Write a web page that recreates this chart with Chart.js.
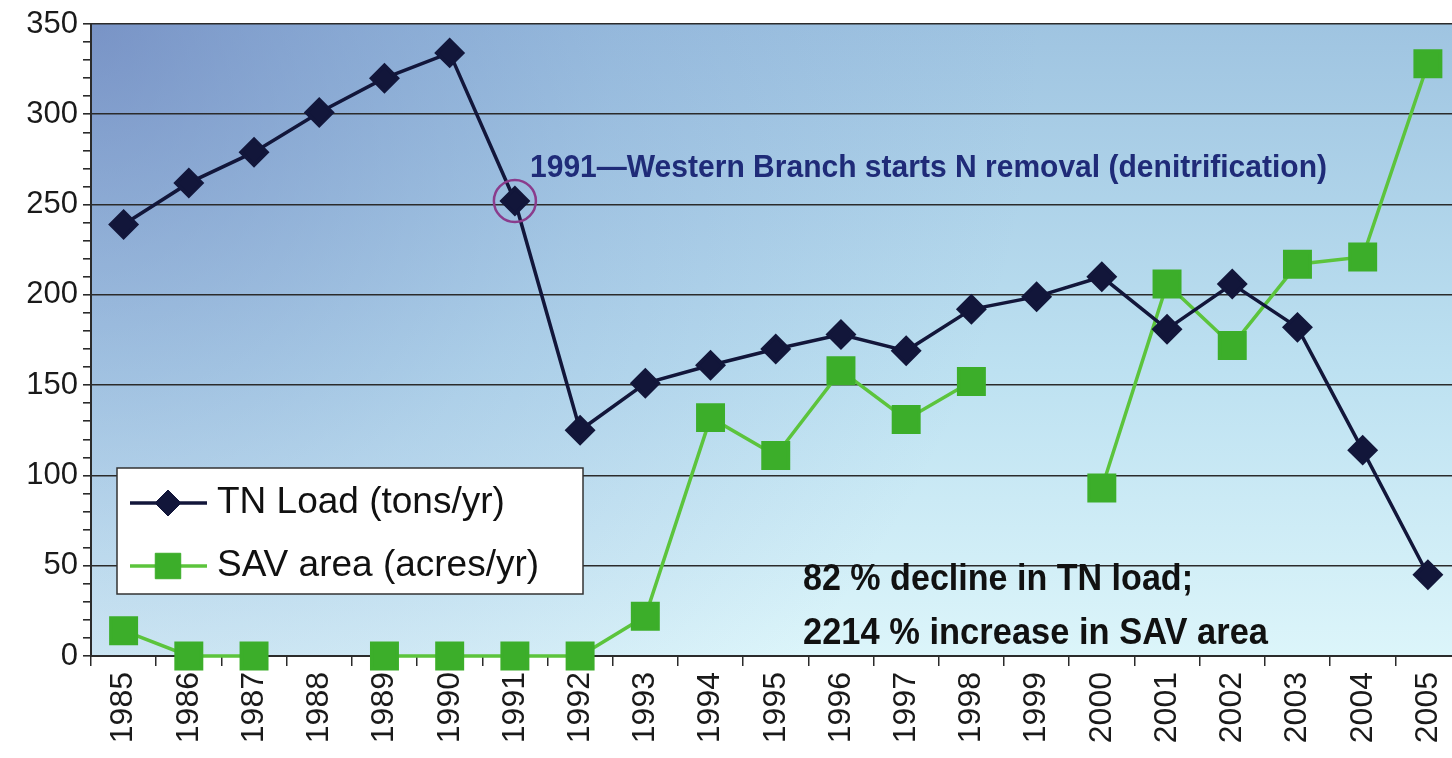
<!DOCTYPE html>
<html>
<head>
<meta charset="utf-8">
<script src="https://cdn.jsdelivr.net/npm/chart.js@4.4.0/dist/chart.umd.min.js"></script>
<style>
  html, body { margin: 0; padding: 0; background: #fff; overflow: hidden; }
  #wrap { position: relative; width: 1452px; height: 758px; overflow: hidden; }
  canvas { display: block; }
</style>
</head>
<body>
<div id="wrap"><canvas id="chart" width="1482" height="758"></canvas></div>
<script>
const years = ['1985', '1986', '1987', '1988', '1989', '1990', '1991', '1992', '1993', '1994', '1995',
  '1996', '1997', '1998', '1999', '2000', '2001', '2002', '2003', '2004', '2005'];

// tons/yr
const tnLoad = [239, 262, 279, 301, 320, 334, 252, 125, 151, 161, 170,
  178, 169, 192, 199, 210, 181, 206, 182, 114, 45];

// acres/yr, null = no survey
const savArea = [14, 0, 0, null, 0, 0, 0, 0, 22, 132, 111,
  158, 131, 152, null, 93, 206, 172, 217, 221, 328];

const yMin = 0;
const yMax = 350;
const yLabelStep = 50;
const yMinorStep = 10;

const seriesNames = ['TN Load (tons/yr)', 'SAV area (acres/yr)'];
const markedYear = '1991';
const noteTop = '1991\u2014Western Branch starts N removal (denitrification)';
const noteBottom = ['82 % decline in TN load;', '2214 % increase in SAV area'];

const AXIS = '#2b2b2b';
const NAVY = '#12163a';
const GREEN_LINE = '#5cc43c';
const GREEN_PT = '#3cae2a';

const plotBackground = {
  id: 'plotBackground',
  beforeDraw(chart) {
    const { ctx, chartArea: a } = chart;
    ctx.save();
    const g = ctx.createLinearGradient(0, a.top, 0, a.bottom);
    g.addColorStop(0, '#9fc4e1');
    g.addColorStop(0.55, '#bde1f1');
    g.addColorStop(1, '#dcf5fa');
    ctx.fillStyle = g;
    ctx.fillRect(a.left, a.top, a.right - a.left, a.bottom - a.top);
    const r = ctx.createRadialGradient(a.left, a.top, 0, a.left, a.top, 950);
    r.addColorStop(0, 'rgba(95,115,180,0.6)');
    r.addColorStop(0.55, 'rgba(110,140,200,0.22)');
    r.addColorStop(1, 'rgba(120,150,210,0)');
    ctx.fillStyle = r;
    ctx.fillRect(a.left, a.top, a.right - a.left, a.bottom - a.top);
    ctx.restore();
  }
};

const overlay = {
  id: 'overlay',
  afterDatasetsDraw(chart) {
    const { ctx } = chart;
    ctx.save();

    // circle round the 1991 point
    const pt = chart.getDatasetMeta(0).data[years.indexOf(markedYear)];
    ctx.strokeStyle = '#8a3c8c';
    ctx.lineWidth = 2.5;
    ctx.beginPath();
    ctx.arc(pt.x, pt.y, 21, 0, Math.PI * 2);
    ctx.stroke();

    ctx.textBaseline = 'middle';
    ctx.textAlign = 'left';
    ctx.fillStyle = '#1f2b78';
    ctx.font = 'bold 32px "Liberation Sans Narrow", "Liberation Sans", Arial, sans-serif';
    ctx.fillText(noteTop, 530, 168, 797);

    ctx.fillStyle = '#111';
    ctx.font = 'bold 36px "Liberation Sans Narrow", "Liberation Sans", Arial, sans-serif';
    ctx.fillText(noteBottom[0], 803, 580, 390);
    ctx.fillText(noteBottom[1], 803, 634, 465);

    // legend box
    ctx.fillStyle = '#fff';
    ctx.fillRect(117, 468, 466, 126);
    ctx.strokeStyle = '#333';
    ctx.lineWidth = 1.5;
    ctx.strokeRect(117, 468, 466, 126);

    const rows = [503, 566];
    chart.data.datasets.forEach((ds, i) => {
      const y = rows[i];
      ctx.strokeStyle = ds.borderColor;
      ctx.lineWidth = ds.borderWidth;
      ctx.beginPath();
      ctx.moveTo(130, y);
      ctx.lineTo(207, y);
      ctx.stroke();
      ctx.fillStyle = ds.pointBackgroundColor;
      ctx.strokeStyle = ds.pointBackgroundColor;
      ctx.lineWidth = 1;
      Chart.helpers.drawPoint(ctx, {
        pointStyle: ds.pointStyle, rotation: 0, radius: ds.pointRadius, borderWidth: 1
      }, 168, y);
      ctx.fillStyle = '#111';
      ctx.font = '37px "Liberation Sans", Arial, sans-serif';
      ctx.fillText(ds.label, 217, y, i === 0 ? 300 : 352);
    });

    ctx.restore();
  }
};

new Chart(document.getElementById('chart'), {
  type: 'line',
  data: {
    labels: years,
    datasets: [{
      label: seriesNames[0],
      data: tnLoad,
      borderColor: NAVY,
      borderWidth: 3.5,
      pointStyle: 'rectRot',
      pointRadius: 13,
      pointBackgroundColor: NAVY,
      pointBorderColor: NAVY,
      tension: 0,
      clip: false,
      spanGaps: false
    }, {
      label: seriesNames[1],
      data: savArea,
      borderColor: GREEN_LINE,
      borderWidth: 3.5,
      pointStyle: 'rect',
      pointRadius: 18,
      pointBackgroundColor: GREEN_PT,
      pointBorderColor: GREEN_PT,
      tension: 0,
      clip: false,
      spanGaps: false
    }]
  },
  options: {
    responsive: false,
    animation: false,
    devicePixelRatio: 1,
    layout: { padding: { top: 24, right: 2, left: 0, bottom: 0 } },
    plugins: {
      legend: { display: false },
      tooltip: { enabled: false }
    },
    scales: {
      x: {
        offset: true,
        grid: {
          offset: true,
          drawOnChartArea: false,
          tickColor: AXIS,
          tickLength: 10,
          lineWidth: 1.5
        },
        border: { color: AXIS, width: 2 },
        ticks: {
          autoSkip: false,
          minRotation: 90,
          maxRotation: 90,
          padding: 6,
          color: '#1a1a1a',
          font: { family: '"Liberation Sans", Arial, sans-serif', size: 32 }
        },
        afterFit(scale) { scale.height = 102; }
      },
      y: {
        min: yMin,
        max: yMax,
        grid: {
          color: c => (c.tick && c.tick.value % yLabelStep === 0 ? AXIS : 'transparent'),
          tickColor: AXIS,
          tickLength: 8,
          lineWidth: 1.6
        },
        border: { color: AXIS, width: 2 },
        ticks: {
          stepSize: yMinorStep,
          autoSkip: false,
          padding: 5,
          color: '#1a1a1a',
          font: { family: '"Liberation Sans", Arial, sans-serif', size: 31 },
          callback: v => (v % yLabelStep === 0 ? v : '')
        },
        afterFit(scale) { scale.width = 91; }
      }
    }
  },
  plugins: [plotBackground, overlay]
});
</script>
</body>
</html>
